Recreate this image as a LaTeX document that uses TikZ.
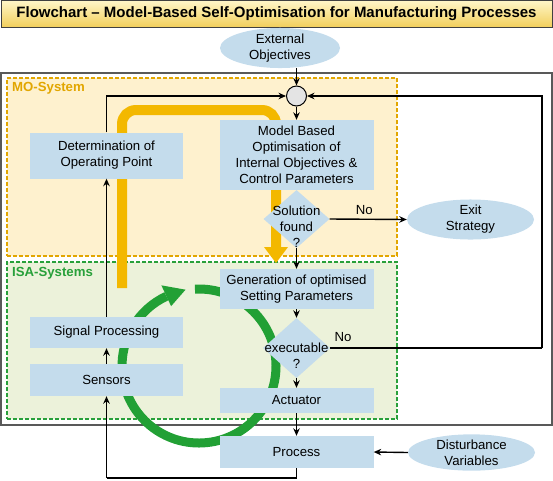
\documentclass[tikz,border=0pt]{standalone}
\usepackage{fontspec}
\setmainfont{Liberation Sans}
\usetikzlibrary{shapes.geometric,arrows.meta,calc}
\definecolor{boxblue}{HTML}{C4DCEC}
\definecolor{mofill}{HTML}{FEF1CE}
\definecolor{moline}{HTML}{E2A600}
\definecolor{isafill}{HTML}{ECF2DA}
\definecolor{isaline}{HTML}{28A03A}
\definecolor{goldbar}{HTML}{F3B800}
\definecolor{greenbar}{HTML}{22A035}
\definecolor{titletop}{HTML}{FFF6C8}
\definecolor{titlebot}{HTML}{F2CF5C}
\definecolor{junction}{HTML}{E4E4E4}
\tikzset{
  boxnode/.style={rectangle, fill=boxblue, inner sep=0pt, align=center},
  ellnode/.style={ellipse, fill=boxblue, inner sep=0pt, align=center},
  dianode/.style={diamond, fill=boxblue, inner sep=0pt},
  txtnode/.style={inner sep=0pt, align=center},
  conn/.style={-{Stealth[length=7.5pt,width=6.5pt]}, line width=1.4pt, black},
  plain/.style={line width=1.4pt, black},
}
\begin{document}
\begin{tikzpicture}[x=1pt,y=-1pt,font=\fontsize{13.2}{16}\selectfont]
\useasboundingbox (0,0) rectangle (553,480);
% title
\node[rectangle, draw=black!75, line width=1pt, top color=titletop, bottom color=titlebot,
  minimum width=551pt, minimum height=26.5pt, inner sep=0pt,
  font=\fontsize{15}{18}\selectfont\bfseries] (title) at (276.5,13.75)
  {Flowchart -- Model-Based Self-Optimisation for Manufacturing Processes};
% outer frame
\node[rectangle, draw=black!65, line width=1.2pt, minimum width=551pt, minimum height=352pt, inner sep=0pt] (outer) at (276.5,249) {};
% regions
\node[rectangle, draw=moline, fill=mofill, dashed, dash pattern=on 4pt off 2pt, line width=1.5pt,
  minimum width=390pt, minimum height=178pt, inner sep=0pt] (mo) at (202,167) {};
\node[rectangle, draw=isaline, fill=isafill, dashed, dash pattern=on 4pt off 2pt, line width=1.5pt,
  minimum width=390pt, minimum height=157pt, inner sep=0pt] (isa) at (202,340.5) {};
\node[txtnode, anchor=west, text=moline, font=\fontsize{13.2}{16}\selectfont\bfseries] (molabel) at (12,88) {MO-System};
\node[txtnode, anchor=west, text=isaline, font=\fontsize{13.2}{16}\selectfont\bfseries] (isalabel) at (12,273) {ISA-Systems};
% yellow bar
\draw[goldbar, line width=10pt, rounded corners=14pt] (122,288) -- (122,110) -- (276,110) -- (276,248);
\fill[goldbar] (264,247) -- (288,247) -- (276,263) -- cycle;
% green circular arrow
\coordinate (gc) at (199,366);
\draw[greenbar, line width=9pt] ($(gc)+(-93:77)$) arc[start angle=-93, end angle=245, radius=77];
\fill[greenbar] ($(gc)+(245:66)$) -- ($(gc)+(245:89)$) -- ($(gc)+(260:77.5)$) -- cycle;
% nodes
\node[ellnode, minimum width=120pt, minimum height=30pt] (ext) at (280,48) {External\\Objectives};
\node[circle, draw=black, line width=1pt, fill=junction, minimum size=20pt, inner sep=0pt] (circ) at (296.5,96) {};
\node[boxnode, minimum width=153pt, minimum height=46pt] (det) at (106.5,155.5) {Determination of\\Operating Point};
\node[boxnode, minimum width=154pt, minimum height=70pt] (mbo) at (296.5,155) {Model Based\\Optimisation of\\Internal Objectives \&\\Control Parameters};
\node[dianode, minimum width=66pt, minimum height=58pt] (sol) at (296.5,219) {};
\node[txtnode] (soltxt) at (296.5,227) {Solution\\found\\?};
\node[ellnode, minimum width=127pt, minimum height=35pt] (exit) at (470.5,219.5) {Exit\\Strategy};
\node[boxnode, minimum width=154pt, minimum height=40pt] (gen) at (296.5,289) {Generation of optimised\\Setting Parameters};
\node[dianode, minimum width=67pt, minimum height=60pt] (exe) at (296.5,348) {};
\node[txtnode] (exetxt) at (296.5,356) {executable\\?};
\node[boxnode, minimum width=154pt, minimum height=25pt] (act) at (296.5,400.5) {Actuator};
\node[boxnode, minimum width=154pt, minimum height=32pt] (proc) at (296.5,452) {Process};
\node[ellnode, minimum width=127pt, minimum height=35pt] (dist) at (471.5,452.5) {Disturbance\\Variables};
\node[boxnode, minimum width=153pt, minimum height=31pt] (sig) at (106.5,332.5) {Signal Processing};
\node[boxnode, minimum width=153pt, minimum height=32pt] (sens) at (106.5,380) {Sensors};
% connectors
\coordinate (fbright) at (542,348);
\coordinate (bottomleft) at (106.5,478);
\draw[conn] (ext.south -| circ.north) -- (circ.north);
\draw[conn] (circ.south) -- (mbo.north);
\draw[conn] (sol.south) -- (gen.north);
\draw[conn] (sol.east) -- node[txtnode, above=4pt, pos=0.45] (nolbl1) {No} (exit.west);
\draw[conn] (gen.south) -- (exe.north);
\draw[conn] (exe.south) -- (act.north);
\draw[plain] (exe.east) -- (fbright);
\draw[conn] (fbright) |- (circ.east);
\node[txtnode] (nolbl2) at (343,337) {No};
\draw[conn] (act.south) -- (proc.north);
\draw[conn] (dist.west) -- (proc.east);
\draw[plain] (proc.south) |- (bottomleft);
\draw[conn] (bottomleft) -- (sens.south);
\draw[conn] (sens.north) -- (sig.south);
\draw[conn] (sig.north) -- (det.south);
\draw[conn] (det.north) |- (circ.west);
\end{tikzpicture}
\end{document}
